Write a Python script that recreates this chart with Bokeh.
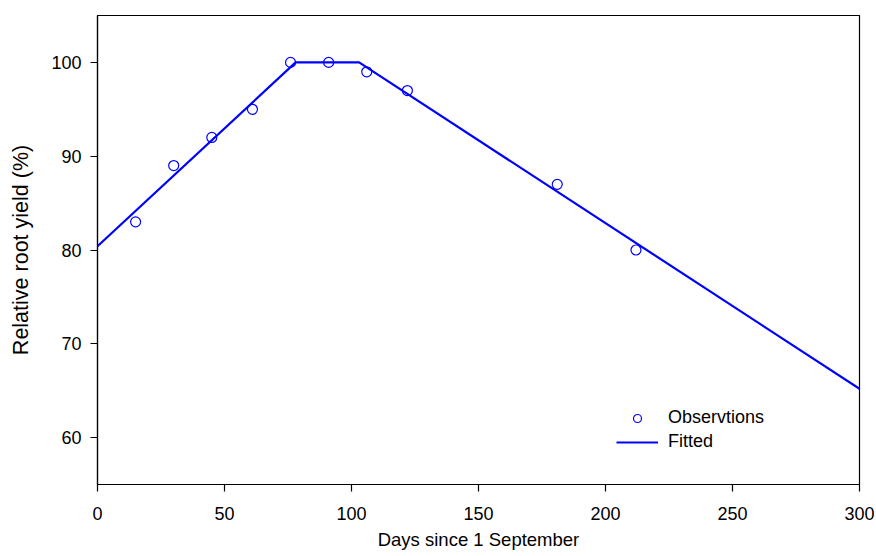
from bokeh.plotting import figure
from bokeh.models import Range1d, FixedTicker, Legend, LegendItem, ColumnDataSource
from bokeh.embed import file_html
from bokeh.resources import INLINE

# Observations
obs_days = [15, 30, 45, 61, 76, 91, 106, 122, 181, 212]
obs_yield = [83, 89, 92, 95, 100, 100, 99, 97, 87, 80]

# Fitted (linear-plateau-linear) breakpoints
fit_days = [0, 78, 103, 300]
fit_yield = [80.4, 100, 100, 65.2]

x_ticks = [0, 50, 100, 150, 200, 250, 300]
y_ticks = [60, 70, 80, 90, 100]

FONT = "Liberation Sans"
BLUE = "#0000ff"

p = figure(width=876, height=556, output_backend="svg", toolbar_location=None,
           x_range=Range1d(0, 300), y_range=Range1d(55, 105),
           min_border_left=97, min_border_right=17, min_border_top=15, min_border_bottom=72)

p.xgrid.visible = False
p.ygrid.visible = False
p.outline_line_color = "black"
p.outline_line_alpha = 1.0
p.outline_line_width = 1.2
p.background_fill_color = "white"
p.border_fill_color = "white"

fit_src = ColumnDataSource(dict(x=fit_days, y=fit_yield))
obs_src = ColumnDataSource(dict(x=obs_days, y=obs_yield))

r_line = p.line("x", "y", source=fit_src, line_color=BLUE, line_width=2.2)
r_pts = p.scatter("x", "y", source=obs_src, marker="circle", size=10,
                  fill_color=None, line_color=BLUE, line_width=1.2)

for ax in (p.xaxis[0], p.yaxis[0]):
    ax.axis_line_color = "black"
    ax.axis_line_width = 1.2
    ax.major_tick_line_color = "black"
    ax.major_tick_line_width = 1.2
    ax.major_tick_in = 0
    ax.major_tick_out = 7
    ax.minor_tick_line_color = None
    ax.major_label_text_font = FONT
    ax.major_label_text_font_size = "18px"
    ax.major_label_text_color = "black"
    ax.axis_label_text_font = FONT
    ax.axis_label_text_font_style = "normal"
    ax.axis_label_text_color = "black"

p.xaxis.ticker = FixedTicker(ticks=x_ticks)
p.yaxis.ticker = FixedTicker(ticks=y_ticks)
p.xaxis.axis_label = "Days since 1 September"
p.yaxis.axis_label = "Relative root yield (%)"
p.xaxis.axis_label_text_font_size = "18.5px"
p.yaxis.axis_label_text_font_size = "21.5px"
p.xaxis.major_label_standoff = 15
p.yaxis.major_label_standoff = 9
p.xaxis.axis_label_standoff = 6
p.yaxis.axis_label_standoff = 15

legend = Legend(items=[LegendItem(label="Observtions", renderers=[r_pts]),
                       LegendItem(label="Fitted", renderers=[r_line])],
                location=(519, 32), orientation="vertical",
                glyph_width=42, glyph_height=20, label_height=20,
                label_standoff=10, spacing=3, padding=0, margin=0,
                border_line_color=None, background_fill_alpha=0,
                label_text_font=FONT, label_text_font_size="18px",
                label_text_color="black")
p.add_layout(legend)

open("out.html", "w").write(file_html(p, INLINE))
